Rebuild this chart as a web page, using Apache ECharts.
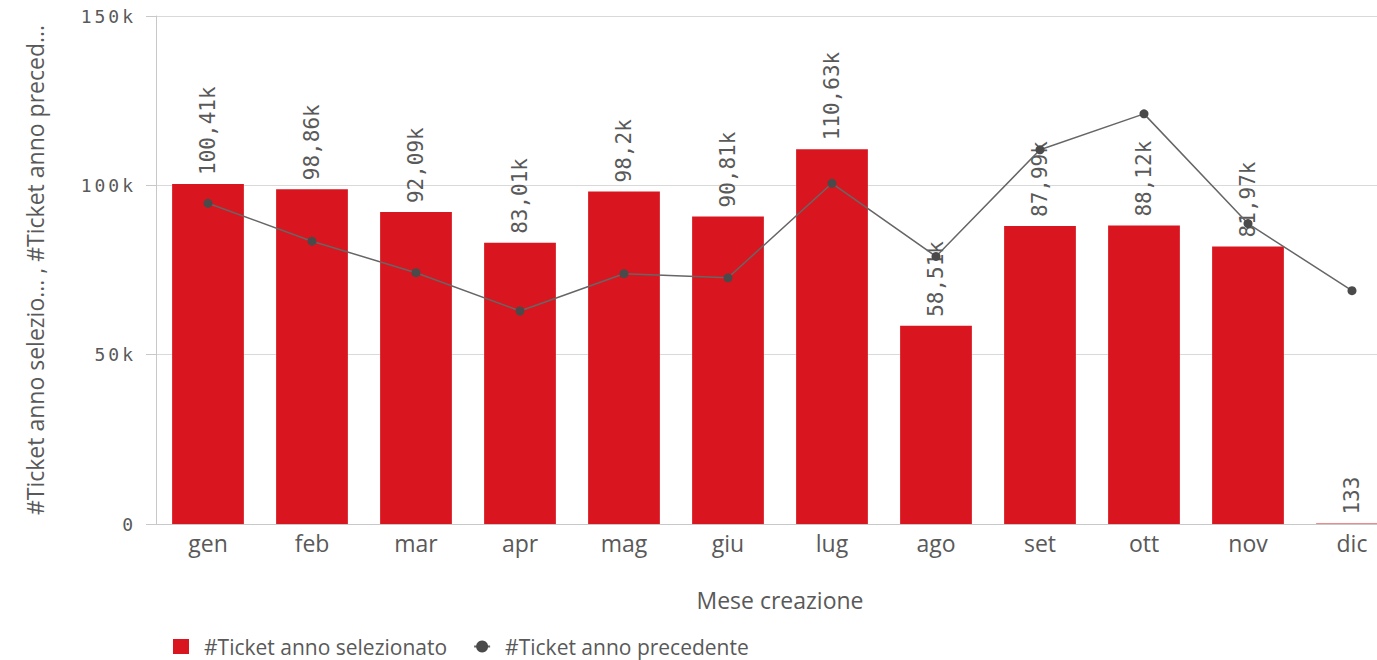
<!DOCTYPE html>
<html>
<head>
<meta charset="utf-8">
<script src="https://cdn.jsdelivr.net/npm/echarts@6/dist/echarts.min.js"></script>
<style>
  html, body { margin: 0; padding: 0; background: #fff; overflow: hidden; }
  /* the plot runs a little past the right edge of the window */
  #chart { width: 1404px; height: 660px; }
  /* wider tracking for the value-axis tick labels */
  #chart text[style*="monospace"] { letter-spacing: 3px; }
</style>
</head>
<body>
<div id="chart"></div>
<script>
// Months of ticket creation
const months = ['gen', 'feb', 'mar', 'apr', 'mag', 'giu', 'lug', 'ago', 'set', 'ott', 'nov', 'dic'];
// Tickets in the selected year
const ticketSelected = [100410, 98860, 92090, 83010, 98200, 90810, 110630, 58510, 87990, 88120, 81970, 133];
// Tickets in the previous year
const ticketPrevious = [94700, 83500, 74200, 62900, 73900, 72700, 100600, 79000, 110500, 121100, 88700, 68900];

const seriesNames = ['#Ticket anno selezionato', '#Ticket anno precedente'];
const xAxisTitle = 'Mese creazione';
const yAxisTitle = '#Ticket anno selezio... , #Ticket anno preced...';

// Italian-style compact number: 100410 -> "100,41k"
function compact(v) {
  if (Math.abs(v) < 1000) return String(v);
  let s = (v / 1000).toFixed(2).replace(/\.?0+$/, '');
  return s.replace('.', ',') + 'k';
}

const chart = echarts.init(document.getElementById('chart'), null, { renderer: 'svg' });

const grey = '#595959';
const sans = '"Open Sans", sans-serif';

chart.setOption({
  animation: false,
  backgroundColor: '#ffffff',
  grid: { left: 156, right: 0, top: 16, bottom: 136, containLabel: false },
  legend: {
    left: 168,
    top: 631,
    itemWidth: 16,
    itemHeight: 15,
    itemGap: 26,
    textStyle: { color: grey, fontFamily: sans, fontSize: 21, lineHeight: 18, padding: [0, 0, 0, 10] },
    data: [
      { name: seriesNames[0], icon: 'rect' },
      { name: seriesNames[1] }
    ]
  },
  xAxis: {
    type: 'category',
    data: months,
    name: xAxisTitle,
    nameLocation: 'middle',
    nameGap: 64,
    nameTextStyle: { color: grey, fontFamily: sans, fontSize: 23 },
    axisLine: { show: true, lineStyle: { color: '#c8c8c8', width: 1 } },
    axisTick: { show: false },
    axisLabel: { color: grey, fontFamily: sans, fontSize: 23, margin: 7 }
  },
  yAxis: {
    type: 'value',
    min: 0,
    max: 150000,
    interval: 50000,
    name: yAxisTitle,
    nameLocation: 'middle',
    nameGap: 110,
    nameTextStyle: { color: grey, fontFamily: sans, fontSize: 23 },
    axisLine: { show: true, lineStyle: { color: '#c8c8c8', width: 1 } },
    axisTick: { show: true, length: 10, lineStyle: { color: '#c8c8c8' } },
    axisLabel: {
      color: grey,
      fontFamily: '"DejaVu Sans Mono", monospace',
      fontSize: 18,
      margin: 20,
      formatter: v => compact(v)
    },
    splitLine: { show: true, lineStyle: { color: '#d9d9d9', width: 1 } }
  },
  series: [
    {
      name: seriesNames[0],
      type: 'bar',
      data: ticketSelected,
      barWidth: '69%',
      itemStyle: { color: '#d9161f' },
      label: {
        show: true,
        position: 'top',
        rotate: 90,
        align: 'left',
        verticalAlign: 'middle',
        distance: 9,
        color: grey,
        fontFamily: '"DejaVu Sans Mono"',
        fontSize: 21,
        formatter: p => compact(p.value)
      }
    },
    {
      name: seriesNames[1],
      type: 'line',
      data: ticketPrevious,
      symbol: 'circle',
      symbolSize: 9,
      lineStyle: { color: '#666666', width: 1.5 },
      itemStyle: { color: '#4a4a4a' },
      z: 3
    }
  ]
});
</script>
</body>
</html>
